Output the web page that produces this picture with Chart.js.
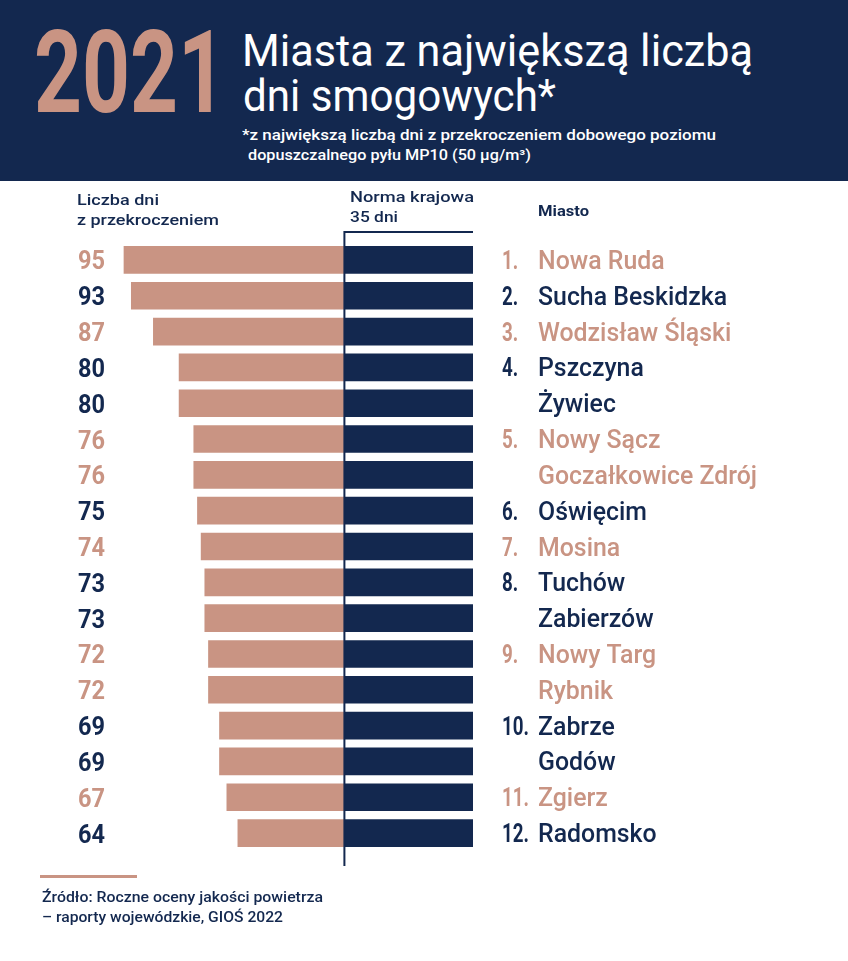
<!DOCTYPE html>
<html><head><meta charset="utf-8">
<script src="https://cdn.jsdelivr.net/npm/chart.js@4"></script>
<style>
body{margin:0;background:#fff;}
#wrap{position:relative;width:848px;height:961px;overflow:hidden;font-family:Roboto, sans-serif;}
#c{position:absolute;left:0;top:0;}
#header{position:absolute;left:0;top:0;width:848px;height:181px;background:#13284f;}
.t{position:absolute;white-space:nowrap;line-height:1;transform-origin:0 0;margin:0;}
#rule{position:absolute;left:40px;top:875px;width:97px;height:3px;background:#c99483;}
</style></head>
<body><div id="wrap">
<canvas id="c" width="848" height="961"></canvas>
<div id="header"></div>
<div class="t" data-x="34" data-b="112" data-fs="115" data-w="192" style="font-weight:700;color:#c99483">2021</div>
<div class="t" data-x="242" data-b="66" data-fs="44" data-w="511" style="font-weight:400;color:#fff">Miasta z największą liczbą</div>
<div class="t" data-x="243" data-b="111" data-fs="44" data-w="313" style="font-weight:400;color:#fff">dni smogowych*</div>
<div class="t" data-x="242" data-b="141" data-fs="14.5" data-w="474" style="font-weight:500;color:#fff">*z największą liczbą dni z przekroczeniem dobowego poziomu</div>
<div class="t" data-x="248" data-b="161" data-fs="14.5" data-w="283" style="font-weight:500;color:#fff">dopuszczalnego pyłu MP10 (50 µg/m³)</div>
<div class="t" data-x="77" data-b="206" data-fs="15.5" data-w="82" style="font-weight:500;color:#13284f">Liczba dni</div>
<div class="t" data-x="77" data-b="226" data-fs="15.5" data-w="142" style="font-weight:500;color:#13284f">z przekroczeniem</div>
<div class="t" data-x="350" data-b="203" data-fs="15.5" data-w="124" style="font-weight:500;color:#13284f">Norma krajowa</div>
<div class="t" data-x="350" data-b="223" data-fs="15.5" data-w="48" style="font-weight:500;color:#13284f">35 dni</div>
<div class="t" data-x="538" data-b="217" data-fs="15" data-w="51" style="font-weight:700;color:#13284f">Miasto</div>
<div id="rule"></div>
<div class="t" data-x="42" data-b="903" data-fs="15" data-w="281" style="font-weight:500;color:#13284f">Źródło: Roczne oceny jakości powietrza</div>
<div class="t" data-x="42" data-b="923" data-fs="15" data-w="241" style="font-weight:500;color:#13284f">– raporty wojewódzkie, GIOŚ 2022</div>
</div>
<script>
// ---- data ----
const cities = ["Nowa Ruda","Sucha Beskidzka","Wodzisław Śląski","Pszczyna","Żywiec","Nowy Sącz","Goczałkowice Zdrój","Oświęcim","Mosina","Tuchów","Zabierzów","Nowy Targ","Rybnik","Zabrze","Godów","Zgierz","Radomsko"];
const ranks = ["1.","2.","3.","4.","","5.","","6.","7.","8.","","9.","","10.","","11.","12."];
const rankGroup = [1,2,3,4,4,5,5,6,7,8,8,9,9,10,10,11,12];
const days = [95,93,87,80,80,76,76,75,74,73,73,72,72,69,69,67,64];
const NORM = 35;

const NAVY = '#13284f', SALMON = '#c99483';
const rowColor = rankGroup.map(g => g % 2 ? SALMON : NAVY);

// ---- HTML text placement ----
document.querySelectorAll('.t').forEach(el => {
  const fs = +el.dataset.fs;
  el.style.fontSize = fs + 'px';
  el.style.left = el.dataset.x + 'px';
  el.style.top = (+el.dataset.b - 0.842 * fs) + 'px';
  const w = el.getBoundingClientRect().width;
  if (el.dataset.w) el.style.transform = 'scaleX(' + (+el.dataset.w / w) + ')';
});

function drawText(ctx, text, x, base, font, color, align, sx) {
  ctx.save();
  ctx.font = font; ctx.fillStyle = color; ctx.textAlign = align; ctx.textBaseline = 'alphabetic';
  ctx.translate(x, base); ctx.scale(sx, 1);
  ctx.fillText(text, 0, 0);
  ctx.restore();
}

const labelsPlugin = {
  id: 'rowLabels',
  afterDatasetsDraw(chart) {
    const { ctx, scales: { x, y } } = chart;
    const xn = x.getPixelForValue(NORM), x0 = x.getPixelForValue(0);
    ctx.save();
    ctx.strokeStyle = NAVY; ctx.lineWidth = 2;
    ctx.beginPath();
    ctx.moveTo(xn, 231); ctx.lineTo(xn, 866);
    ctx.moveTo(xn - 1, 232); ctx.lineTo(x0, 232);
    ctx.stroke();
    ctx.restore();
    ctx.save();
    ctx.font = '500 25px Roboto';
    const cityScale = 219 / ctx.measureText('Goczałkowice Zdrój').width;
    ctx.font = '700 25px Roboto';
    const rankScale = 27 / ctx.measureText('10.').width;
    ctx.font = '700 26px Roboto';
    const valScale = 27 / ctx.measureText('95').width;
    ctx.restore();
    days.forEach((v, i) => {
      const yc = y.getPixelForValue(i);
      const c = rowColor[i];
      drawText(ctx, String(v), 105, yc + 9.5, '700 26px Roboto', c, 'right', valScale);
      if (ranks[i]) drawText(ctx, ranks[i], 502, yc + 9, '700 25px Roboto', c, 'left', rankScale);
      drawText(ctx, cities[i], 538, yc + 9, '500 25px Roboto', c, 'left', cityScale);
    });
  }
};

new Chart(document.getElementById('c'), {
  type: 'bar',
  data: {
    labels: cities,
    datasets: [
      { label: 'Norma krajowa', data: days.map(() => [0, NORM]), backgroundColor: NAVY, barThickness: 27, grouped: false },
      { label: 'Przekroczenie', data: days.map(v => [NORM, v]), backgroundColor: SALMON, barThickness: 27, grouped: false }
    ]
  },
  options: {
    indexAxis: 'y',
    responsive: false,
    animation: false,
    devicePixelRatio: 1,
    layout: { padding: { left: 105.6, right: 375, top: 242, bottom: 110 } },
    plugins: { legend: { display: false }, tooltip: { enabled: false } },
    scales: {
      x: { display: false, reverse: true, min: 0, max: 100 },
      y: { display: false }
    }
  },
  plugins: [labelsPlugin]
});
</script>
</body></html>
